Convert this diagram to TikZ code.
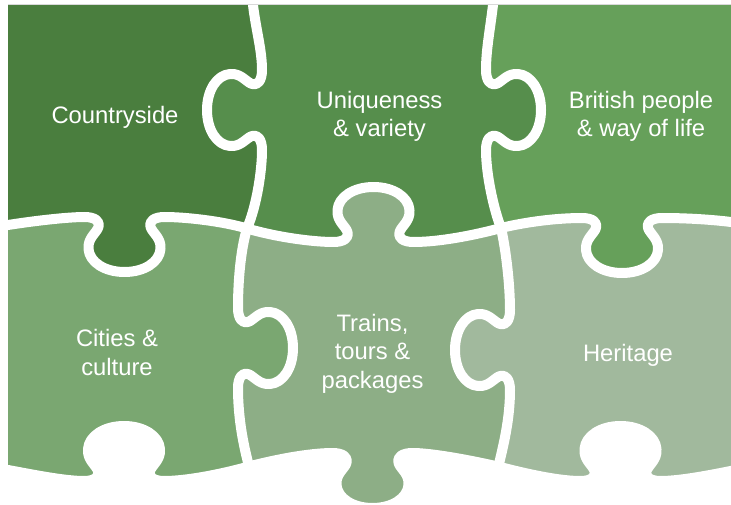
\documentclass[tikz,border=0pt]{standalone}
\usepackage{fontspec}
\setmainfont{Liberation Sans}
\definecolor{cCou}{HTML}{4A7E3E}
\definecolor{cUni}{HTML}{568E4C}
\definecolor{cBri}{HTML}{66A05A}
\definecolor{cCit}{HTML}{7AA771}
\definecolor{cTra}{HTML}{8DAE86}
\definecolor{cHer}{HTML}{A1B99D}
\definecolor{cEdge}{HTML}{D9D9D9}
% horizontal puzzle tab: centre x, base y, side (+1 down, -1 up)
\newcommand\htab[3]{-- ({#1-40},{#2}) .. controls ({#1-30},{#2}) and ({#1-24},{#2+(#3)*4}) .. ({#1-26},{#2+(#3)*10}) .. controls ({#1-28},{#2+(#3)*16}) and ({#1-37},{#2+(#3)*21}) .. ({#1-36},{#2+(#3)*32}) .. controls ({#1-35},{#2+(#3)*45}) and ({#1-20},{#2+(#3)*55}) .. ({#1},{#2+(#3)*55}) .. controls ({#1+20},{#2+(#3)*55}) and ({#1+35},{#2+(#3)*45}) .. ({#1+36},{#2+(#3)*32}) .. controls ({#1+37},{#2+(#3)*21}) and ({#1+28},{#2+(#3)*16}) .. ({#1+26},{#2+(#3)*10}) .. controls ({#1+24},{#2+(#3)*4}) and ({#1+30},{#2}) .. ({#1+40},{#2})}
% vertical puzzle tab: base x, centre y, side (+1 right, -1 left)
\newcommand\vtab[3]{-- ({#1},{#2-40}) .. controls ({#1},{#2-30}) and ({#1+(#3)*4},{#2-24}) .. ({#1+(#3)*10},{#2-26}) .. controls ({#1+(#3)*16},{#2-28}) and ({#1+(#3)*21},{#2-37}) .. ({#1+(#3)*32},{#2-36}) .. controls ({#1+(#3)*45},{#2-35}) and ({#1+(#3)*55},{#2-20}) .. ({#1+(#3)*55},{#2}) .. controls ({#1+(#3)*55},{#2+20}) and ({#1+(#3)*45},{#2+35}) .. ({#1+(#3)*32},{#2+36}) .. controls ({#1+(#3)*21},{#2+37}) and ({#1+(#3)*16},{#2+28}) .. ({#1+(#3)*10},{#2+26}) .. controls ({#1+(#3)*4},{#2+24}) and ({#1},{#2+30}) .. ({#1},{#2+40})}
\def\pathH{(-5,226) -- (8,225) .. controls (40,220) and (70,217) .. (84.5,217) \htab{124.5}{217}{1} .. controls (185,217) and (222,221) .. (247,228.5) .. controls (280,238) and (315,242) .. (333.5,242) \htab{373.5}{242}{-1} .. controls (440,242) and (475,235) .. (501,228) .. controls (530,221) and (560,218) .. (582,218) \htab{622}{218}{1} .. controls (690,218) and (715,220) .. (731,222) -- (745,223)}
\def\pathA{(253,-8) -- (253,5) .. controls (256,30) and (262,50) .. (262,70) \vtab{262}{110}{-1} .. controls (262,170) and (257,205) .. (247,228.5) .. controls (240,252) and (238,285) .. (238,308) \vtab{238}{348}{1} .. controls (238,420) and (244,448) .. (250,470) -- (253,515)}
\def\pathB{(493,-8) -- (493,5) .. controls (490,30) and (486,50) .. (486,70) \vtab{486}{110}{1} .. controls (486,175) and (494,210) .. (501,228) .. controls (506,250) and (510,285) .. (510,310) \vtab{510}{350}{-1} .. controls (510,420) and (503,447) .. (498,468) -- (496,515)}
\def\pathBot{(-5,469) -- (8,470) .. controls (35,475) and (65,481) .. (84,481) \htab{124}{481}{-1} .. controls (185,481) and (218,475) .. (247,467) .. controls (285,457) and (315,453) .. (332.5,453) \htab{372.5}{453}{1} .. controls (430,453) and (465,459) .. (500,467) .. controls (535,476) and (562,481) .. (580.5,481) \htab{620.5}{481}{-1} .. controls (680,481) and (712,475) .. (745,468)}
\tikzset{
  gap/.style={draw=white, line width=10pt, line join=round},
  lbl/.style={text=white, font=\fontsize{23.8}{28.5}\selectfont, align=center, anchor=base, inner sep=0pt}
}
\begin{document}
\begin{tikzpicture}[x=1pt,y=-1pt]
\useasboundingbox (0,0) rectangle (731,505);
\fill[white] (0,0) rectangle (731,505);
\begin{scope}
  \clip (8,5) rectangle (731,505);
  \fill[cHer] (0,0) rectangle (740,520);
  \begin{scope}
    \clip \pathB -- (-10,515) -- (-10,-8) -- cycle;
    \fill[cTra] (0,0) rectangle (740,520);
    \begin{scope}
      \clip \pathA -- (-10,515) -- (-10,-8) -- cycle;
      \fill[cCit] (0,0) rectangle (740,520);
    \end{scope}
  \end{scope}
  \begin{scope}
    \clip \pathH -- (745,-10) -- (-5,-10) -- cycle;
    \fill[cBri] (0,0) rectangle (740,520);
    \begin{scope}
      \clip \pathB -- (-10,515) -- (-10,-8) -- cycle;
      \fill[cUni] (0,0) rectangle (740,520);
      \begin{scope}
        \clip \pathA -- (-10,515) -- (-10,-8) -- cycle;
        \fill[cCou] (0,0) rectangle (740,520);
      \end{scope}
    \end{scope}
  \end{scope}
\end{scope}
\fill[white] \pathBot -- (745,520) -- (-5,520) -- cycle;
\draw[gap] \pathBot;
\draw[gap] \pathH;
\draw[gap] \pathA;
\draw[gap] \pathB;
\draw[cEdge, line width=1pt] (8,4.5) -- (731,4.5);
\node[lbl] (cou) at (115,124) {Countryside};
\node[lbl] (uni) at (379.5,137) {Uniqueness\\\& variety};
\node[lbl] (bri) at (641,137) {British people\\\& way of life};
\node[lbl] (cit) at (117,375) {Cities \&\\culture};
\node[lbl] (tra) at (372.5,388) {Trains,\\tours \&\\packages};
\node[lbl] (her) at (628,361) {Heritage};
\end{tikzpicture}
\end{document}
